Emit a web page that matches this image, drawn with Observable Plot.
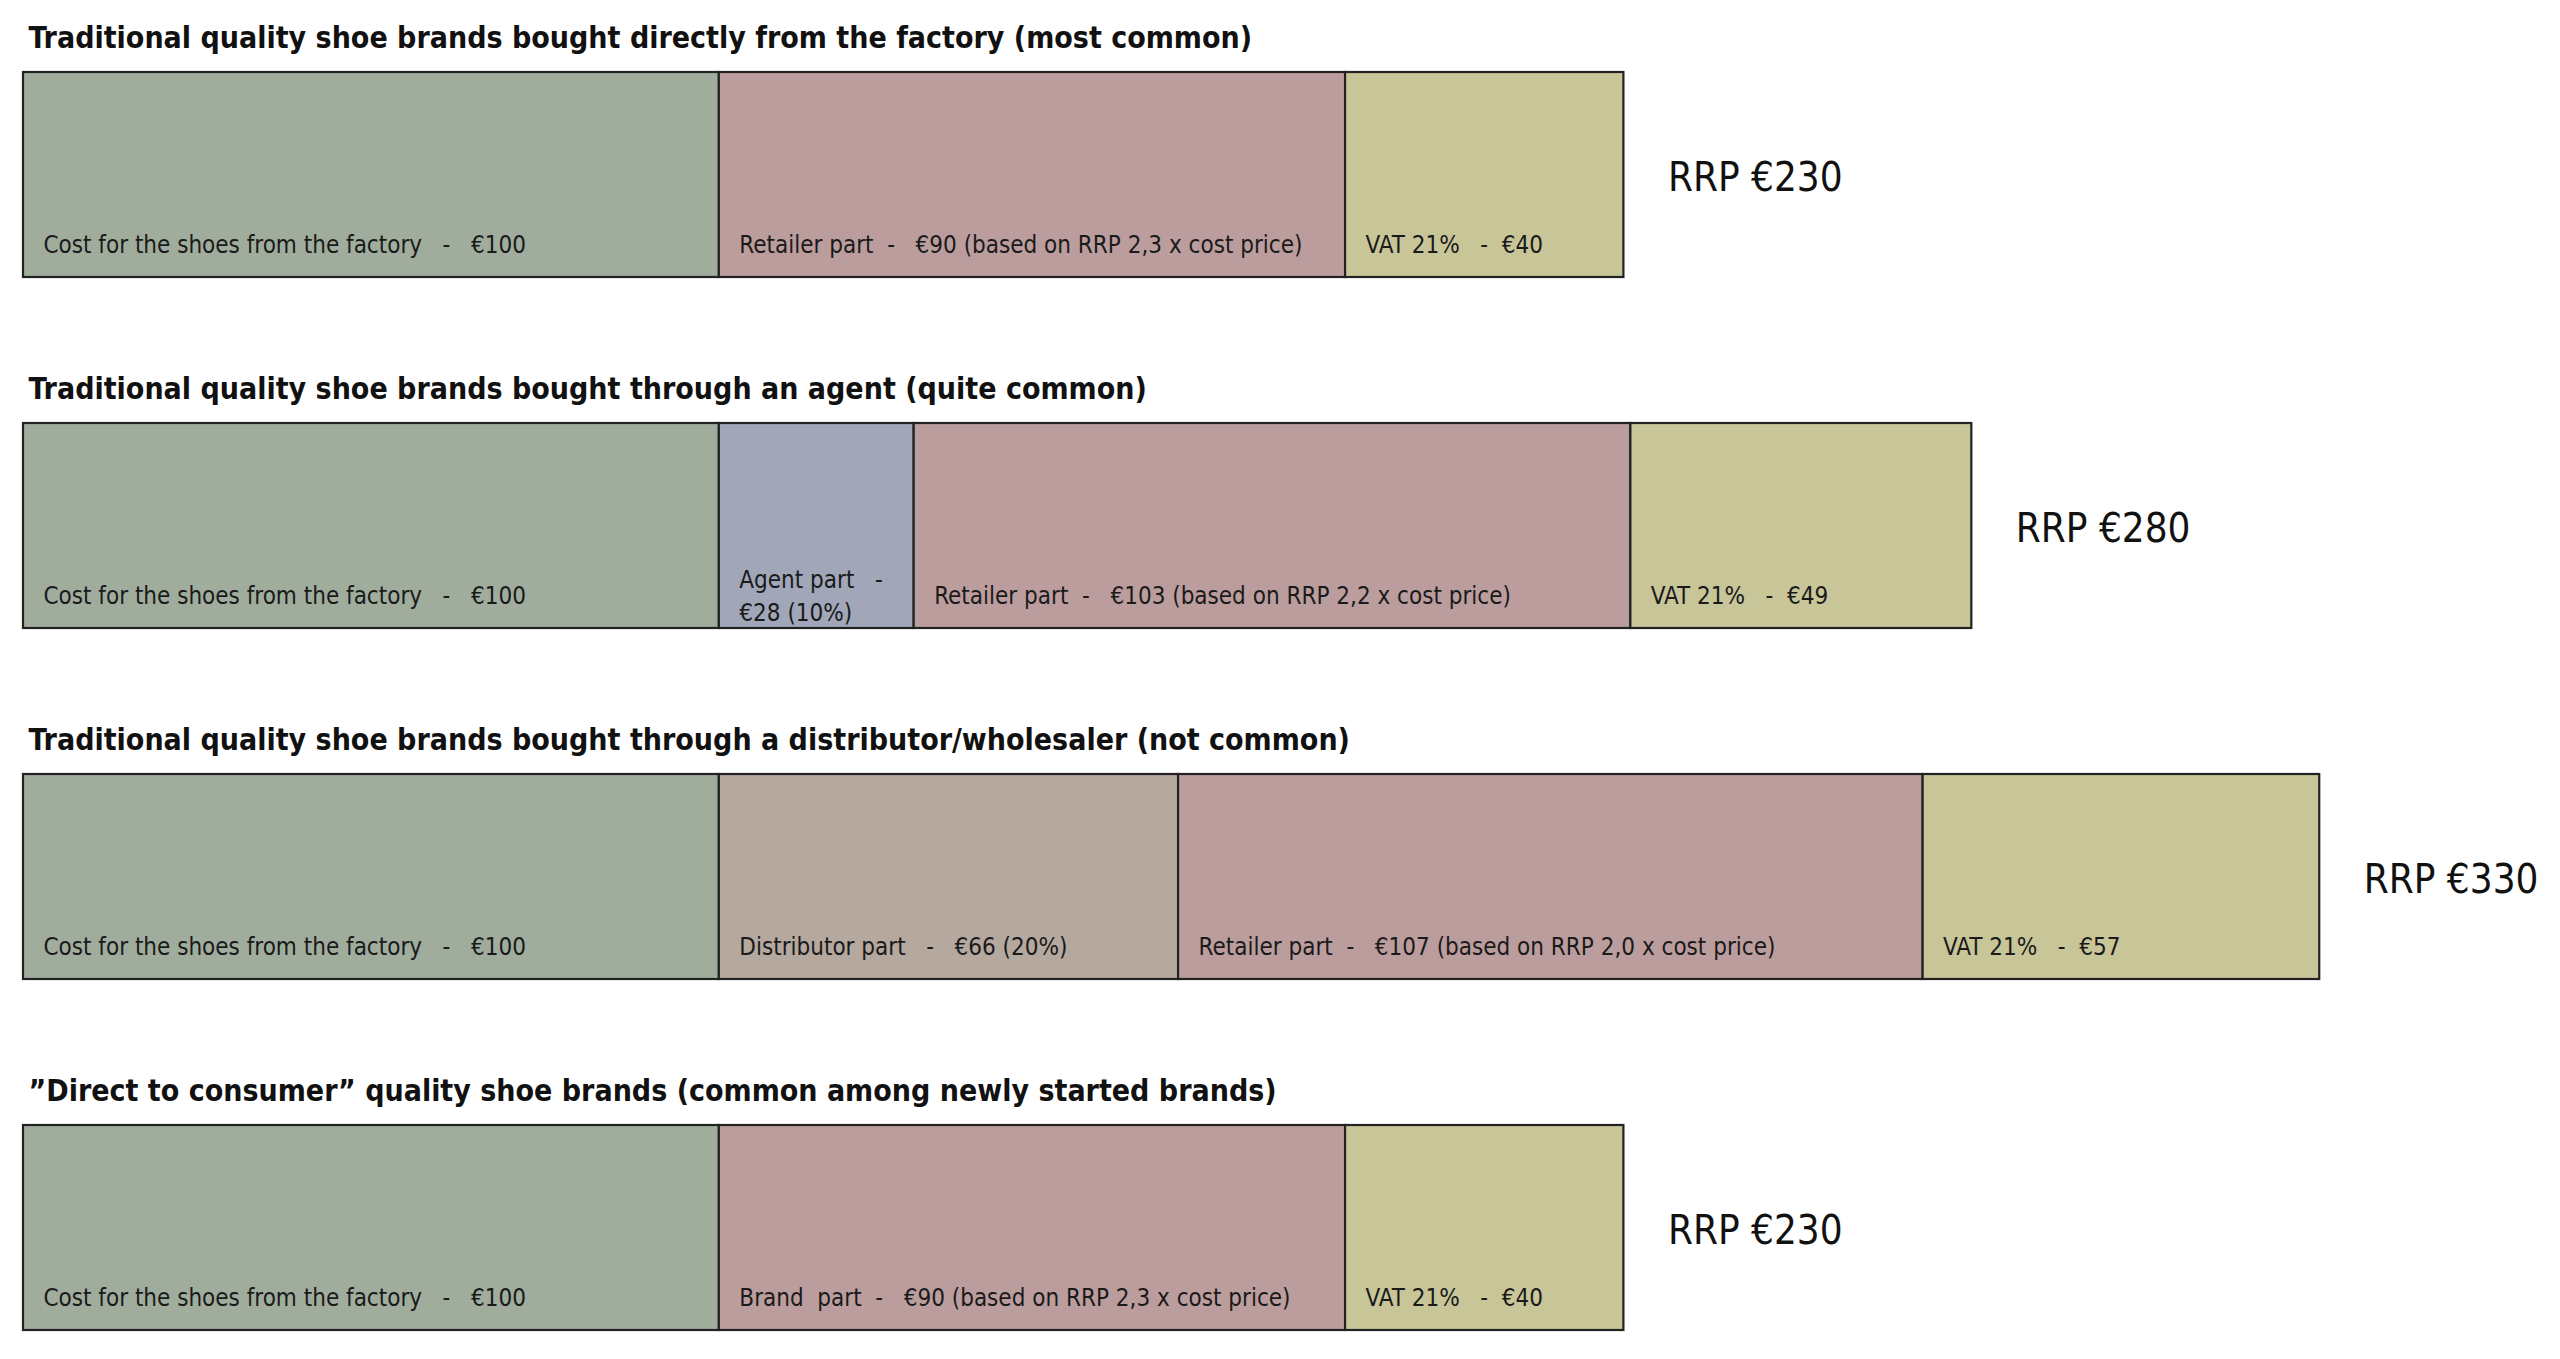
<!DOCTYPE html>
<html>
<head>
<meta charset="utf-8">
<script src="https://cdn.jsdelivr.net/npm/d3@7"></script>
<script src="https://cdn.jsdelivr.net/npm/@observablehq/plot@0.6"></script>
<style>
  html, body { margin: 0; padding: 0; background: #fff; overflow: hidden; }
  #chart svg { display: block; }
</style>
</head>
<body>
<div id="chart"></div>
<script>
// Scenarios (rows), top to bottom
const scenarios = [
  "Traditional quality shoe brands bought directly from the factory (most common)",
  "Traditional quality shoe brands bought through an agent (quite common)",
  "Traditional quality shoe brands bought through a distributor/wholesaler (not common)",
  "\u201DDirect to consumer\u201D quality shoe brands (common among newly started brands)"
];
const rrpValues = [230, 280, 330, 230];
const rrpLabels = ["RRP €230", "RRP €280", "RRP €330", "RRP €230"];

// Price segments
const segScenario = [0, 0, 0, 1, 1, 1, 1, 2, 2, 2, 2, 3, 3, 3];
const segPart = ["Factory", "Retailer", "VAT",
                 "Factory", "Agent", "Retailer", "VAT",
                 "Factory", "Distributor", "Retailer", "VAT",
                 "Factory", "Brand", "VAT"];
const segValues = [100, 90, 40,
                   100, 28, 103, 49,
                   100, 66, 107, 57,
                   100, 90, 40];
const segLabels = [
  "Cost for the shoes from the factory   -   €100",
  "Retailer part  -   €90 (based on RRP 2,3 x cost price)",
  "VAT 21%   -  €40",
  "Cost for the shoes from the factory   -   €100",
  "Agent part   -\n€28 (10%)",
  "Retailer part  -   €103 (based on RRP 2,2 x cost price)",
  "VAT 21%   -  €49",
  "Cost for the shoes from the factory   -   €100",
  "Distributor part   -   €66 (20%)",
  "Retailer part  -   €107 (based on RRP 2,0 x cost price)",
  "VAT 21%   -  €57",
  "Cost for the shoes from the factory   -   €100",
  "Brand  part  -   €90 (based on RRP 2,3 x cost price)",
  "VAT 21%   -  €40"
];
const partNames = ["Factory", "Agent", "Distributor", "Retailer", "Brand", "VAT"];
const partColors = ["#a0ad9d", "#a1a7b9", "#b5a89f", "#bc9d9e", "#bc9d9e", "#c8c698"];

const segments = segValues.map((v, i) => ({
  row: scenarios[segScenario[i]],
  part: segPart[i],
  value: v,
  label: segLabels[i]
}));
const totals = scenarios.map((s, i) => ({row: s, rrp: rrpValues[i], label: rrpLabels[i]}));

const W = 2560, H = 1359;
const condensed = "'DejaVu Sans Condensed', 'DejaVu Sans', sans-serif";

const chart = Plot.plot({
  width: W,
  height: H,
  marginTop: 72,
  marginBottom: H - 1331,
  marginLeft: 23,
  marginRight: 0,
  style: {fontFamily: condensed, background: "#fff", color: "#111"},
  x: {domain: [0, 364.6], axis: null},
  y: {domain: scenarios, axis: null, paddingInner: 0.415, paddingOuter: 0},
  color: {domain: partNames, range: partColors},
  marks: [
    Plot.barX(segments, Plot.stackX({
      x: "value", y: "row", fill: "part",
      stroke: "#222", strokeWidth: 2.2, order: null
    })),
    Plot.text(segments, Plot.stackX1({
      x: "value", y: "row", text: "label", order: null,
      textAnchor: "start", lineAnchor: "middle", dx: 20, dy: 68,
      fontSize: 24, lineHeight: 1.35, fill: "#1a1a1a"
    })),
    Plot.text(totals, {
      x: "rrp", y: "row", text: "label",
      textAnchor: "start", lineAnchor: "middle", dx: 44, dy: 3,
      fontSize: 40, fill: "#111"
    }),
    Plot.text(totals, {
      x: 0, y: "row", text: "row",
      textAnchor: "start", lineAnchor: "bottom", dx: 5, dy: -127,
      fontSize: 30, fontWeight: "bold", fill: "#111"
    })
  ]
});
document.getElementById("chart").appendChild(chart);
</script>
</body>
</html>
